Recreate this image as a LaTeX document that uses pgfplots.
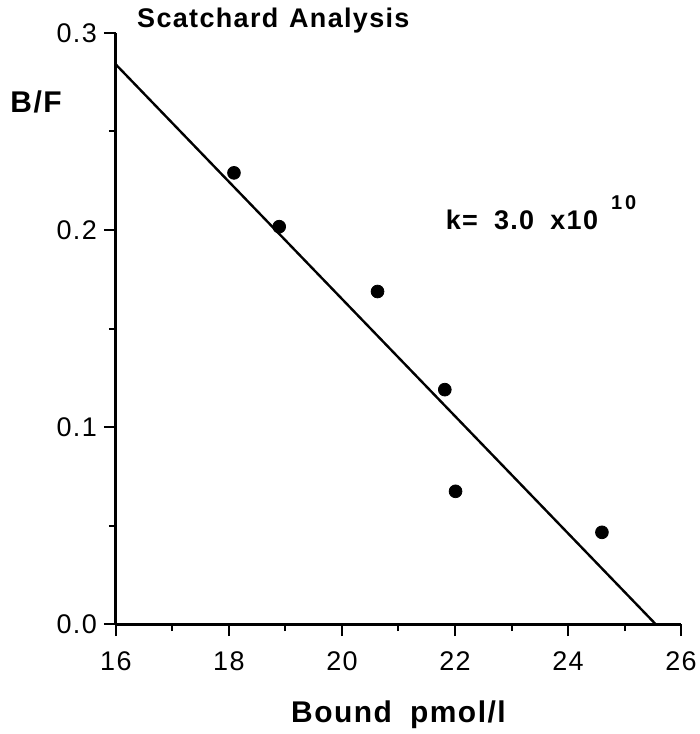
\documentclass[border=0pt]{standalone}
\usepackage{fontspec}
\setmainfont{Liberation Sans}[LetterSpace=5]
\usepackage{pgfplots}
\pgfplotsset{compat=1.18}
\begin{document}
\begin{tikzpicture}
\begin{axis}[name=ax, scale only axis, width=283pt, height=296pt,
  xmin=16, xmax=26, ymin=0, ymax=0.3,
  axis lines=left, axis line style={-, line width=1.5pt},
  xtick={16,18,...,26}, minor xtick={17,19,...,25},
  ytick={0,0.1,0.2,0.3}, minor ytick={0.05,0.15,0.25},
  yticklabels={0.0,0.1,0.2,0.3},
  xticklabels={},
  tick align=outside, major tick length=6pt, minor tick length=3.5pt,
  every tick/.style={line width=1pt, black},
  tick label style={font=\fontsize{13.5}{13.5}\selectfont},
  /pgf/number format/assume math mode=true,
  clip=false]
\addplot[black, line width=1.2pt, no marks] coordinates {(16,0.284) (25.55,0)};
\addplot[only marks, mark=*, mark size=3.2pt, black] coordinates {
  (18.09,0.229) (18.89,0.2017) (20.63,0.1688) (21.82,0.119) (22.01,0.0674) (24.60,0.0466)};
\pgfplotsinvokeforeach{16,18,20,22,24,26}{
  \node[anchor=base, inner sep=0pt, font=\fontsize{13.5}{13.5}\selectfont, yshift=-23pt] at (axis cs:#1,0) {#1};
}
\node[anchor=base west, inner sep=0pt, font=\bfseries\fontsize{13.5}{13.5}\selectfont, xshift=10.5pt, yshift=2.5pt] at (axis cs:16,0.3) {Scatchard\hspace{0.4em}Analysis};
\node[anchor=base west, inner sep=0pt, font=\bfseries\fontsize{15}{15}\selectfont, xshift=-53pt] at (axis cs:16,0.2595) {B/F};
\node[anchor=base west, font=\bfseries\fontsize{13.5}{13.5}\selectfont, inner sep=0pt] at (axis cs:21.83,0.2002) {k=\hspace{0.6em}3.0\hspace{0.6em}x10\hspace{6.5pt}\raisebox{10pt}{\fontsize{10}{10}\selectfont 1\hspace{1.5pt}0}};
\node[anchor=base, inner sep=0pt, font=\bfseries\fontsize{15}{15}\selectfont, yshift=-49pt] at (axis cs:21,0) {Bound\hspace{0.6em}pmol/l};
\end{axis}
\pgfresetboundingbox
\path ([shift={(-58pt,-55pt)}]ax.south west) rectangle ([shift={(9pt,16.5pt)}]ax.north east);
\end{tikzpicture}
\end{document}
